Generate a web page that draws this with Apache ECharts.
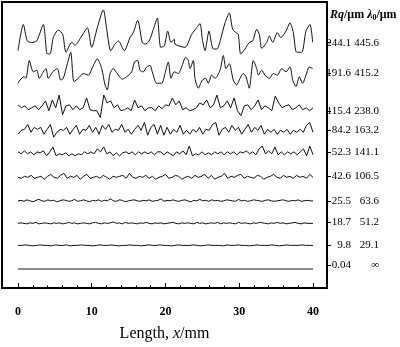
<!DOCTYPE html>
<html>
<head>
<meta charset="utf-8">
<script src="https://cdn.jsdelivr.net/npm/echarts@6/dist/echarts.min.js"></script>
<style>
  html, body { margin:0; padding:0; background:#fff; }
  #chart { width:400px; height:347px; }
</style>
</head>
<body>
<div id="chart"></div>
<script>
// ===== Dados (x em mm, altura em unidades arbitrárias de empilhamento)
const xMajor = [0, 10, 20, 30, 40];
const xMinor = [2,4,6,8,12,14,16,18,22,24,26,28,32,34,36,38];

const rqLabels     = ['244.1','191.6','115.4','84.2','52.3','42.6','25.5','18.7','9.8','0.04'];
const lambdaLabels = ['445.6','415.2','238.0','163.2','141.1','106.5','63.6','51.2','29.1','∞'];
const labelLevels  = [250.5, 219, 180.5, 161.5, 139, 114, 89, 67.5, 44, 23];

// perfil Rq = 244.1
const prof1 = [[0,242.3],[0.72,269],[1.26,252.3],[1.86,250.7],[2.54,252.3],[3.43,269],[3.97,239],[4.34,239],
  [4.79,255.7],[5.46,263.3],[6.06,259],[6.51,240.7],[7.28,250.7],[7.73,248],[8.64,257.3],[9.40,265.7],
  [9.99,245.7],[10.75,265.7],[11.57,284],[12.03,264],[12.57,242.3],[13.15,249],[13.60,252.3],[14.41,242.3],
  [15.19,255.7],[15.63,260.7],[16.23,273.3],[16.85,250.7],[17.22,249],[17.80,252.3],[18.35,264],[18.89,275.7],
  [19.35,245.7],[19.84,247.3],[20.30,262.3],[20.75,250.7],[21.19,254],[21.29,249],[22.64,245.7],[23.55,259],
  [24.23,265.7],[24.68,270],[24.99,254],[25.36,242.3],[25.90,262.3],[26.48,244],[26.98,244],[27.53,255.7],
  [28.07,270.7],[28.65,280.7],[29.11,264],[29.56,260.7],[29.87,259],[30.20,239],[30.78,244],[31.36,250.7],
  [31.83,252.3],[32.37,264],[32.72,259],[33.05,244.7],[33.72,250.7],[34.08,257.3],[34.54,250.7],[35.16,260.7],
  [35.62,255.7],[36.34,262.3],[36.88,270.7],[37.33,260.7],[37.79,240.7],[38.47,240.7],[39.05,262.3],[39.59,269],
  [39.96,250.7]];

// perfil Rq = 191.6
const prof2 = [[0,209],[0.27,212.3],[0.81,215.7],[1.08,214],[1.53,232.3],[2.07,220.7],[2.54,222.3],[2.89,214],
  [3.43,220.7],[3.80,224],[4.11,214],[4.71,220.7],[5.33,224],[5.79,212.3],[6.14,214],[6.69,229],[7.15,240.7],
  [7.59,210.7],[8.18,214],[8.85,219],[9.53,217.3],[10.13,225.7],[10.75,234],[11.35,224],[11.80,207.3],
  [12.11,202.3],[12.48,219],[12.92,224],[13.29,220.7],[14.14,213.3],[14.74,215.7],[15.42,220.7],[15.77,230.7],
  [16.23,232.3],[16.54,222.3],[16.99,220.7],[17.45,225.7],[17.90,227.3],[18.21,220.7],[18.81,209],[19.49,209],
  [19.93,219],[20.38,230.7],[20.75,214],[21.19,220.7],[21.74,219],[22.20,225.7],[22.74,235.7],[23.09,232.3],
  [23.32,224],[23.77,232.3],[24.00,214],[24.45,204],[24.99,212.3],[25.45,214],[25.80,209],[26.27,217.3],
  [26.71,214],[27.39,222.3],[27.84,237.3],[28.20,224],[28.65,229],[29.19,212.3],[29.65,207.3],[30.10,214],
  [30.55,219],[30.92,215.7],[31.36,204],[31.91,232.3],[32.37,224],[32.58,217.3],[33.05,222.3],[33.49,217.3],
  [34.08,214],[34.62,219],[35.16,217.3],[35.76,224],[36.34,220.7],[36.88,225.7],[37.25,212.3],[37.70,205.7],
  [38.14,215.7],[38.60,209],[39.05,217.3],[39.50,225.7],[39.96,224]];

// perfis menores: nível base + desvios em passo uniforme de 0 a 40 mm
const bases = [184, 162, 137, 113, 89, 66, 43.5, 19.5];

const dev3 = [3,0,2,-2,0,2,-2,2,7,-3,8,0,13,-7,2,3,-2,2,-2,0,10,-2,-3,-3,-10,13,5,7,0,3,-3,-2,0,-3,8,0,2,-3,0,0,-3,
  2,-1,3,2,10,3,7,-2,0,-3,-2,0,5,3,8,0,3,13,0,2,7,0,10,-3,-8,2,3,-2,2,8,-2,2,0,-3,12,5,0,2,3,-2,0,3,-2,0,-3,0];

const dev4 = [-5,-1,0,5,-3,2,0,2,-5,0,5,-8,-3,0,-1,2,-5,0,4,-5,0,-1,4,-3,2,-5,4,0,5,-3,0,-1,5,-3,0,-5,0,4,-1,7,-6,2,5,-5,4,-6,2,
  -5,0,-3,4,-5,-1,-5,0,-3,2,-5,0,-1,5,7,-6,0,2,-3,4,-1,2,-5,0,5,-3,2,-1,4,-5,0,-3,0,-5,-1,-3,0,-5,-1,-3,0,-3,4,7,-3];

const dev5 = [2,0,3,0,2,-1,2,1,3,-2,2,7,-2,0,-1,1,-2,0,-2,0,-1,2,0,2,0,5,2,7,0,2,-2,1,-2,1,2,0,2,-1,2,0,2,0,2,-1,2,
  2,-1,2,0,-2,2,0,3,-1,8,-2,0,-1,2,-1,1,-1,2,0,2,-1,2,0,2,-1,2,1,3,0,2,-1,5,8,0,3,0,7,-1,2,-1,2,0,2,-1,2,5,-2,8,-1];

const dev6 = [0,-1,1,0,2,-1,0,1,-2,1,3,0,-1,2,4,-1,1,0,2,-2,1,3,-1,0,1,-1,2,0,-2,1,0,1,2,-1,4,0,-1,1,0,2,-1,1,-2,0,1,
  3,-1,0,2,1,-2,0,1,-1,2,0,1,3,-1,2,-2,0,1,4,-1,1,0,2,3,-1,1,0,-1,2,1,-2,0,1,3,0,-1,2,0,1,-1,2,0,1,-1,3,0];

const dev7 = [0,0.5,-0.5,1,0,-1,0.5,1.5,0,-0.5,1,0,0.5,-1,0,1,0.5,-0.5,0,1.5,
  -0.5,0,1,0,-1,0.5,0,1,-0.5,0.5,0,2,0,-0.5,1,0.5,-1,0,0.5,1,
  0,-0.5,0.5,0,1,-0.5,0,0.5,2,-0.5,0.5,0,1,0,-0.5,0.5,1,0,-1,0.5,
  0,1.5,0,0.5,-0.5,1,0,0.5,-0.5,0,1,0.5,0,-0.5,1.5,0,0.5,-0.5,0,1,
  0.5,0,-0.5,0.5,1,0,-0.5,0,0.5,1,0,-0.5,0.5,0,1,-0.5,0,0.5,0,0];

const dev8 = [0,0.5,0,-0.5,0.5,0,1,-0.5,0,0.5,0,-0.5,0.5,0,0.5,-0.5,0,1,0,0.5,
  -0.5,0,0.5,0,-0.5,0.5,1,0,-0.5,0.5,0,0.5,1.5,0,0.5,-0.5,1,0,0.5,0,
  -0.5,0.5,0,1,0,-0.5,0.5,0,0.5,-0.5,0,0.5,1,0,-0.5,0.5,0,0.5,0,-0.5,
  1,0,0.5,-0.5,0,0.5,0,1,-0.5,0.5,0,0.5,0,-0.5,1,0,0.5,0,-0.5,0.5,
  0,1,0.5,0,-0.5,0.5,0,1,0,0.5,-0.5,0,0.5,1,0,-0.5,0.5,0,0,0];

const dev9 = [0,0,0.5,0,-0.5,0,0.5,0,0,-0.5,0.5,0,0,0.5,-0.5,0,0,0.5,0,0,
  -0.5,0,0.5,0,0,0.5,0,-0.5,0,0,0.5,0,0,-0.5,0,0.5,0,0,0.5,0,
  0,-0.5,0,0.5,0,0,0,0.5,0,-0.5,0,0.5,0,0,0,-0.5,0.5,0,0,0.5,
  0,0,-0.5,0,0.5,0,0,0,0.5,0,-0.5,0,0.5,0,0,0,0.5,0,0,0];

const dev10 = [0, 0];

// ===== Montagem
const FONT = "'Liberation Serif', 'DejaVu Serif', serif";
function uniform(dev, base){ return dev.map((d,i)=>[i*40/(dev.length-1), base+d]); }

const small = [dev3, dev4, dev5, dev6, dev7, dev8, dev9, dev10];
const seriesData = [prof1, prof2].concat(small.map((d,i)=>uniform(d, bases[i])));

const series = seriesData.map((data,i)=>({
  type:'line', data, showSymbol:false, silent:true,
  smooth: i<2 ? 0.25 : false,
  lineStyle: i===9 ? {color:'#8a8a8a', width:2} : {color:'#111', width:1}
}));

function sideLabel(v){
  const i = labelLevels.findIndex(l=>Math.abs(l-v)<0.01);
  return i<0 ? '' : `{a|${rqLabels[i]}}{b|${lambdaLabels[i]}}`;
}

const chart = echarts.init(document.getElementById('chart'), null, {renderer:'canvas'});
chart.setOption({
  animation:false,
  backgroundColor:'#fff',
  title:{
    left:330, top:7, padding:0,
    text:'{ri|Rq}{n|/μm }{ri|λ}{sub|0}{n|/μm}',
    textStyle:{
      rich:{
        ri:{fontFamily:FONT, fontSize:12, fontWeight:'bold', fontStyle:'italic', color:'#000'},
        n:{fontFamily:FONT, fontSize:12, color:'#000'},
        sub:{fontFamily:FONT, fontSize:8, fontWeight:'bold', color:'#000', padding:[7,0,0,0]}
      }
    }
  },
  grid:{left:2, right:73, top:2, bottom:53, show:true, borderColor:'#000', borderWidth:2, backgroundColor:'transparent'},
  xAxis:[{
    type:'value', min:-2.17, max:41.9,
    splitLine:{show:false}, axisLine:{show:false, onZero:false},
    axisTick:{show:true, inside:true, length:5, customValues:xMajor, lineStyle:{color:'#000'}},
    axisLabel:{customValues:xMajor, margin:18, color:'#000', fontFamily:FONT, fontSize:12, fontWeight:'bold'},
    name:'Length, {i|x}/mm', nameLocation:'middle', nameGap:38,
    nameTextStyle:{fontFamily:FONT, fontSize:16, color:'#000',
      rich:{i:{fontFamily:FONT, fontSize:16, fontStyle:'italic', color:'#000'}}}
  },{
    type:'value', min:-2.17, max:41.9, position:'bottom',
    splitLine:{show:false}, axisLine:{show:false, onZero:false}, axisLabel:{show:false},
    axisTick:{show:true, inside:true, length:2.5, customValues:xMinor, lineStyle:{color:'#000'}}
  }],
  yAxis:[{
    type:'value', min:0, max:292, show:false
  },{
    type:'value', min:0, max:292, position:'right',
    splitLine:{show:false}, axisLine:{show:false, onZero:false},
    axisTick:{show:true, length:4, customValues:labelLevels, lineStyle:{color:'#000'}},
    axisLabel:{customValues:labelLevels, margin:2, formatter:sideLabel,
      rich:{
        a:{fontFamily:FONT, fontSize:11, color:'#000', width:22, align:'right'},
        b:{fontFamily:FONT, fontSize:11, color:'#000', width:28, align:'right'}
      }}
  }],
  series
});
</script>
</body>
</html>
